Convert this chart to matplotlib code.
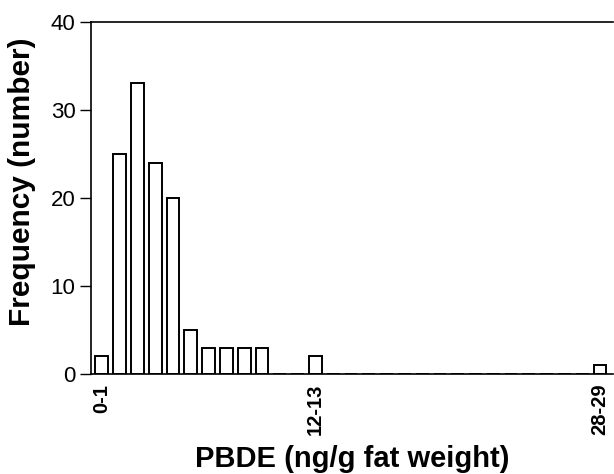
import numpy as np
import matplotlib
matplotlib.use('Agg')
import matplotlib.pyplot as plt

plt.rcParams['font.family'] = ['Liberation Sans', 'DejaVu Sans']

# histogram counts for bins 0-1, 1-2, ..., 28-29
counts = [2, 25, 33, 24, 20, 5, 3, 3, 3, 3, 0, 0, 2,
          0, 0, 0, 0, 0, 0, 0, 0, 0, 0, 0, 0, 0, 0, 0, 1]
bins = np.arange(len(counts))
tick_pos = [0, 12, 28]
tick_labels = ['0-1', '12-13', '28-29']

fig = plt.figure(figsize=(6.14, 4.74), dpi=100)
ax = fig.add_axes([0.148, 0.211, 0.851, 0.743])

ax.bar(bins, counts, width=0.72, color='white', edgecolor='black', linewidth=1.4)

ax.set_xlim(-0.62, 28.75)
ax.set_ylim(0, 40)
ax.set_yticks([0, 10, 20, 30, 40])
ax.tick_params(axis='y', labelsize=16, length=8, width=1, direction='out', pad=3)
ax.set_xticks(tick_pos)
ax.set_xticklabels(tick_labels, rotation=90, fontweight='bold', fontsize=14.5)
ax.tick_params(axis='x', length=0, pad=7)

ax.spines['right'].set_visible(False)
for s in ['left', 'top', 'bottom']:
    ax.spines[s].set_linewidth(1.2)

# axis titles
fig.text(22 / 614, 1 - 182 / 474, 'Frequency (number)', rotation=90,
         fontsize=21.5, fontweight='bold', ha='center', va='center')
fig.text(352 / 614, 1 - 459 / 474, 'PBDE (ng/g fat weight)',
         fontsize=21, fontweight='bold', ha='center', va='center')

fig.savefig('out.png', dpi=100)
